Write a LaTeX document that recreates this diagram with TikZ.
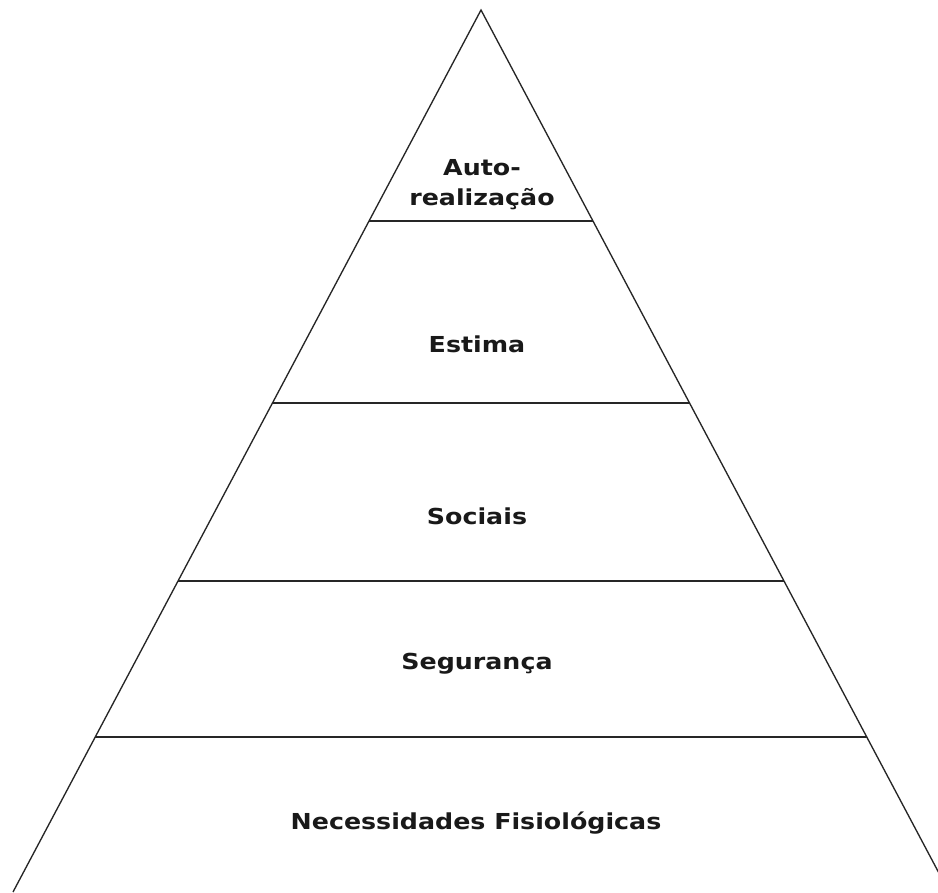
\documentclass[tikz,border=0pt]{standalone}
\usepackage{fontspec}
\setmainfont{DejaVu Sans}
\newcommand{\wide}[1]{\scalebox{1.15}[1]{#1}}
\begin{document}
\begin{tikzpicture}[x=0.75pt,y=-0.75pt,
  edge/.style={draw=black!85,line width=1pt},
  label/.style={inner sep=0pt,anchor=base,font=\bfseries\fontsize{16.5}{22.5}\selectfont,text=black!90}]
\useasboundingbox[fill=white] (0,0) rectangle (938,892);
\coordinate (apex) at (481,10);
\coordinate (bl) at (13,892);
\coordinate (br) at (949,892);
\coordinate (l1) at (369.0,221); \coordinate (r1) at (593.0,221);
\coordinate (l2) at (272.5,403); \coordinate (r2) at (689.5,403);
\coordinate (l3) at (178.0,581); \coordinate (r3) at (784.0,581);
\coordinate (l4) at (95.3,737);  \coordinate (r4) at (866.7,737);
\draw[edge,line join=miter] (bl) -- (apex) -- (br);
\draw[edge] (l1) -- (r1);
\draw[edge] (l2) -- (r2);
\draw[edge] (l3) -- (r3);
\draw[edge] (l4) -- (r4);
\node[label,align=center] (auto) at (482,205) {\wide{Auto-}\\\wide{realização}};
\node[label] (estima) at (477,352) {\wide{Estima}};
\node[label] (sociais) at (477,524) {\wide{Sociais}};
\node[label] (seguranca) at (477,669) {\wide{Segurança}};
\node[label] (fisio) at (476,829) {\wide{Necessidades Fisiológicas}};
\end{tikzpicture}
\end{document}
